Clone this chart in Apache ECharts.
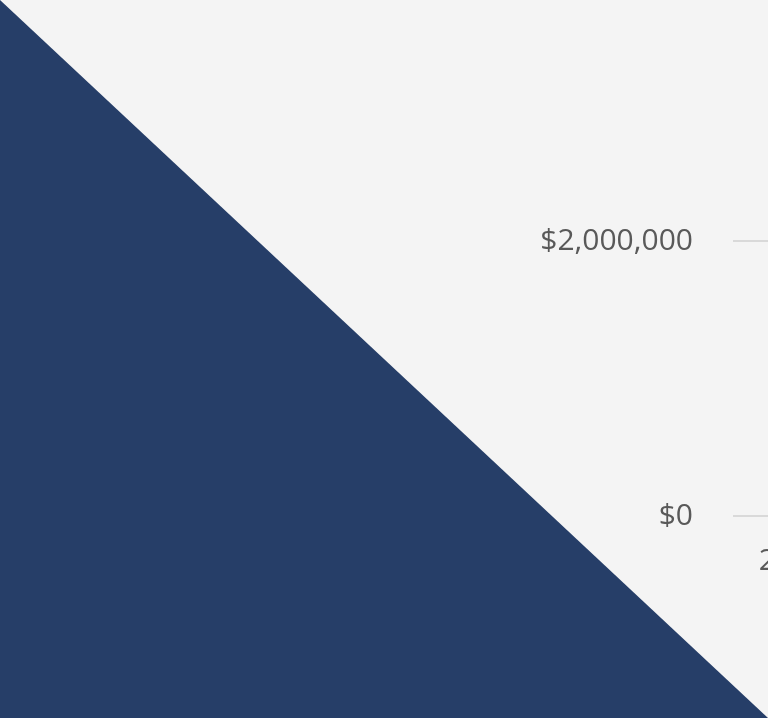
<!DOCTYPE html>
<html>
<head>
<meta charset="utf-8">
<script src="https://cdn.jsdelivr.net/npm/echarts@6/dist/echarts.min.js"></script>
<style>
html,body{margin:0;padding:0;background:#f4f4f4;}
#chart{width:768px;height:718px;}
</style>
</head>
<body>
<div id="chart"></div>
<script>
// Data (only the left edge of the chart is visible in the reference)
var categories = ["2019", "2020", "2021", "2022", "2023"];
var values = [1500000, 1650000, 1800000, 1700000, 1900000];
var yTicks = [0, 2000000];

var chart = echarts.init(document.getElementById('chart'), null, {renderer: 'canvas'});
var W = chart.getWidth(), H = chart.getHeight();

function money(v) {
  return '$' + String(Math.round(v)).replace(/\B(?=(\d{3})+(?!\d))/g, ',');
}

var option = {
  backgroundColor: '#f4f4f4',
  animation: false,
  textStyle: {fontFamily: 'Open Sans'},
  graphic: [{
    type: 'polygon',
    z: -10,
    silent: true,
    shape: {points: [[0, 0], [0, H], [W, H]]},
    style: {fill: '#263e68'}
  }],
  grid: {left: 733, top: 241, height: 275, width: 600, containLabel: false, outerBoundsMode: 'none'},
  xAxis: {
    type: 'category',
    data: categories,
    boundaryGap: true,
    axisLine: {show: false},
    axisTick: {show: false},
    axisLabel: {color: '#595959', fontSize: 30, margin: 30, fontFamily: 'Open Sans'}
  },
  yAxis: {
    type: 'value',
    min: yTicks[0],
    max: yTicks[yTicks.length - 1],
    interval: yTicks[1] - yTicks[0],
    axisLine: {show: false},
    axisTick: {show: false},
    axisLabel: {color: '#595959', fontSize: 30, margin: 40, fontFamily: 'Open Sans', formatter: money},
    splitLine: {show: true, lineStyle: {color: '#d9d9d9', width: 2}}
  },
  series: [{
    type: 'line',
    data: values,
    showSymbol: false,
    lineStyle: {color: '#263e68', width: 3}
  }]
};
chart.setOption(option);
</script>
</body>
</html>
